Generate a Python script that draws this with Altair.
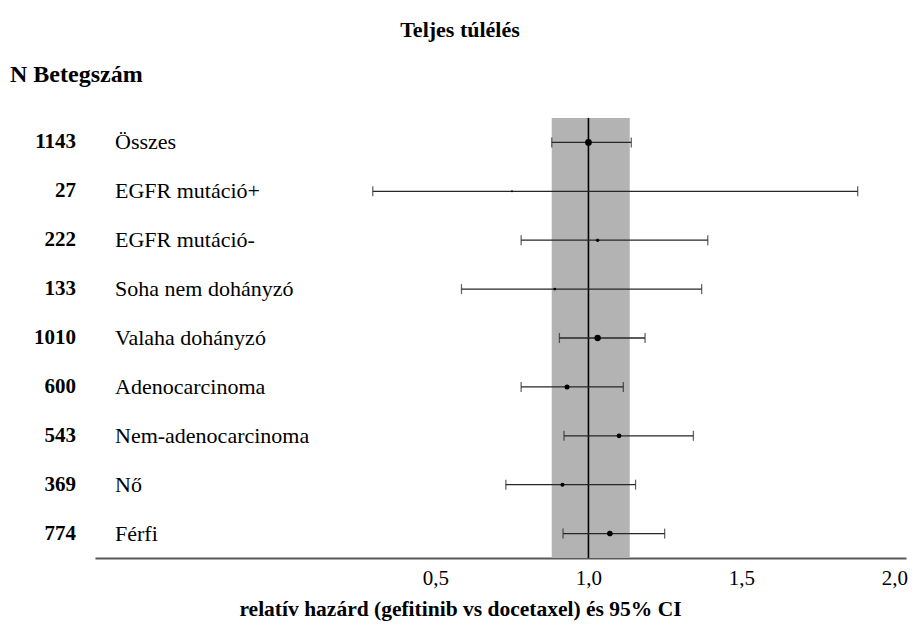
import altair as alt
import pandas as pd

# ---- data ----
labels = ["Összes", "EGFR mutáció+", "EGFR mutáció-", "Soha nem dohányzó",
          "Valaha dohányzó", "Adenocarcinoma", "Nem-adenocarcinoma", "Nő", "Férfi"]
n_patients = [1143, 27, 222, 133, 1010, 600, 543, 369, 774]
hazard = [1.00, 0.75, 1.03, 0.89, 1.03, 0.93, 1.10, 0.915, 1.07]
ci_low = [0.88, 0.295, 0.78, 0.585, 0.905, 0.78, 0.92, 0.73, 0.917]
ci_high = [1.14, 1.88, 1.39, 1.37, 1.185, 1.114, 1.343, 1.154, 1.249]
band_range = [0.88, 1.135]
ref_value = [1.0]
tick_values = [0.5, 1.0, 1.5, 2.0]

title_text = "Teljes túlélés"
n_header = "N Betegszám"
x_title = "relatív hazárd (gefitinib vs docetaxel) és 95% CI"

FONT = "Liberation Serif"
W, H = 811, 440

df = pd.DataFrame({"label": labels, "n": n_patients, "hr": hazard,
                   "lo": ci_low, "hi": ci_high})
df_band = pd.DataFrame({"lo": [band_range[0]], "hi": [band_range[1]]})
df_ref = pd.DataFrame({"ref": ref_value})

xscale = alt.Scale(domain=[-0.613, 2.038], nice=False, zero=False)
yscale = alt.Scale(type="point", padding=0.5)
xaxis = alt.Axis(values=tick_values,
                 labelExpr="replace(format(datum.value, '.1f'), '.', ',')",
                 ticks=False, tickSize=0, grid=False,
                 domainColor="#595959", domainWidth=2,
                 labelFont=FONT, labelFontSize=21, labelColor="black",
                 labelBaseline="middle", labelPadding=20,
                 title=x_title, titleFont=FONT, titleFontSize=21.5,
                 titleFontWeight="bold", titleColor="black",
                 titleX=365, titleY=51, titleAlign="center",
                 titleBaseline="middle")

Y = alt.Y("label:N", sort=labels, scale=yscale, axis=None)

band = alt.Chart(df_band).mark_rect(color="#b3b3b3").encode(
    x=alt.X("lo:Q", scale=xscale, axis=xaxis),
    x2="hi:Q",
    y=alt.value(0), y2=alt.value(H))

ref = alt.Chart(df_ref).mark_rule(color="black", strokeWidth=1.6).encode(
    x=alt.X("ref:Q", scale=xscale), y=alt.value(0), y2=alt.value(H))

base = alt.Chart(df)

err = base.mark_rule(color="#262626", strokeWidth=1.3).encode(
    x=alt.X("lo:Q", scale=xscale), x2="hi:Q", y=Y)
cap_lo = base.mark_tick(color="#262626", thickness=1.3, size=10).encode(
    x=alt.X("lo:Q", scale=xscale), y=Y)
cap_hi = base.mark_tick(color="#262626", thickness=1.3, size=10).encode(
    x=alt.X("hi:Q", scale=xscale), y=Y)
pts = base.mark_circle(color="black", opacity=1).encode(
    x=alt.X("hr:Q", scale=xscale), y=Y,
    size=alt.Size("n:Q", scale=alt.Scale(domain=[27, 1143], range=[4, 45]),
                  legend=None))

ntext = base.mark_text(align="right", baseline="middle", font=FONT,
                       fontSize=21, fontWeight="bold", color="black").encode(
    x=alt.value(-19), y=Y, text="n:N")
ltext = base.mark_text(align="left", baseline="middle", font=FONT,
                       fontSize=22, color="black").encode(
    x=alt.value(20), y=Y, text="label:N")

title_mark = alt.Chart(pd.DataFrame({"t": [title_text]})).mark_text(
    align="center", baseline="middle", font=FONT, fontSize=22,
    fontWeight="bold", color="black").encode(
    x=alt.value(365), y=alt.value(-88), text="t:N")
header_mark = alt.Chart(pd.DataFrame({"t": [n_header]})).mark_text(
    align="left", baseline="middle", font=FONT, fontSize=24,
    fontWeight="bold", color="black").encode(
    x=alt.value(-85), y=alt.value(-43), text="t:N")

chart = alt.layer(band, ref, err, cap_lo, cap_hi, pts, ntext, ltext,
                  title_mark, header_mark).properties(
    width=W, height=H,
    background="white",
    padding={"left": 87, "top": 110, "right": 2, "bottom": 66},
    autosize=alt.AutoSizeParams(type="none"),
).configure_view(stroke=None, strokeWidth=0)

chart.save("out.html", embed_options={"renderer": "svg", "actions": False})
